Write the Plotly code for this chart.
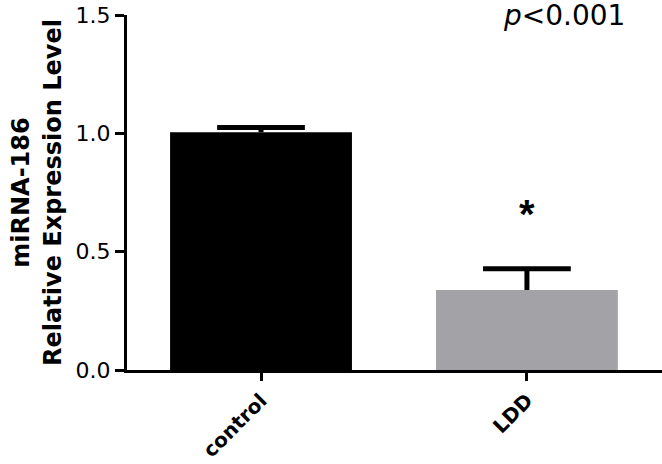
import plotly.graph_objects as go

categories = ["control", "LDD"]
means = [1.005, 0.338]
errors_up = [0.02, 0.09]
bar_colors = ["#000000", "#a3a2a7"]
y_ticks = [0.0, 0.5, 1.0, 1.5]
y_tick_labels = ["0.0", "0.5", "1.0", "1.5"]
p_text = "<i>p</i><0.001"
star_label = "*"
star_y = 0.66

FONT = "DejaVu Sans, Verdana, sans-serif"
CAP_HALF = 0.165  # cap half width in category units

fig = go.Figure()
fig.add_trace(go.Bar(
    x=categories, y=means,
    marker=dict(color=bar_colors, line=dict(width=0)),
    width=0.684,
))

# upward-only error bars (stem + cap) placed on the data scale
for i, (m, e) in enumerate(zip(means, errors_up)):
    top = m + e
    fig.add_shape(type="line", xref="x", yref="y", x0=i, x1=i, y0=m, y1=top,
                  line=dict(color="#000000", width=5))
    fig.add_shape(type="line", xref="x", yref="y", x0=i - CAP_HALF, x1=i + CAP_HALF,
                  y0=top, y1=top, line=dict(color="#000000", width=5))

fig.add_annotation(x=1, y=star_y, xref="x", yref="y", text="<b>" + star_label + "</b>",
                   showarrow=False, font=dict(size=40, color="#000000",
                   family="Liberation Sans, Arial, sans-serif"))
fig.add_annotation(x=(564 - 127) / 535, y=1 + (15 - 16) / 355, xref="paper", yref="paper",
                   text=p_text, showarrow=False, xanchor="center", yanchor="middle",
                   font=dict(size=28, color="#000000", family=FONT))

fig.update_layout(
    width=662, height=464,
    margin=dict(l=127, r=0, t=15, b=94),
    paper_bgcolor="white", plot_bgcolor="white",
    showlegend=False,
    font=dict(family=FONT, color="#000000"),
    xaxis=dict(range=[-0.504, 1.508], showgrid=False, zeroline=False,
               showline=True, linecolor="#000000", linewidth=3,
               ticks="outside", ticklen=8, tickwidth=3, tickcolor="#000000",
               tickangle=-45, tickfont=dict(size=20, family=FONT), automargin=False,
               ticktext=["<b>" + c + "</b>" for c in categories], tickvals=categories),
    yaxis=dict(range=[0, 1.5], showgrid=False, zeroline=False, automargin=False,
               showline=True, linecolor="#000000", linewidth=3,
               ticks="outside", ticklen=9, tickwidth=3, tickcolor="#000000",
               tickvals=y_ticks, ticktext=y_tick_labels,
               tickfont=dict(size=22, family=FONT),
               title=dict(text="<b>miRNA-186<br>Relative Expression Level</b>",
                          font=dict(size=24, family=FONT), standoff=8)),
)

fig.write_html("out.html")
